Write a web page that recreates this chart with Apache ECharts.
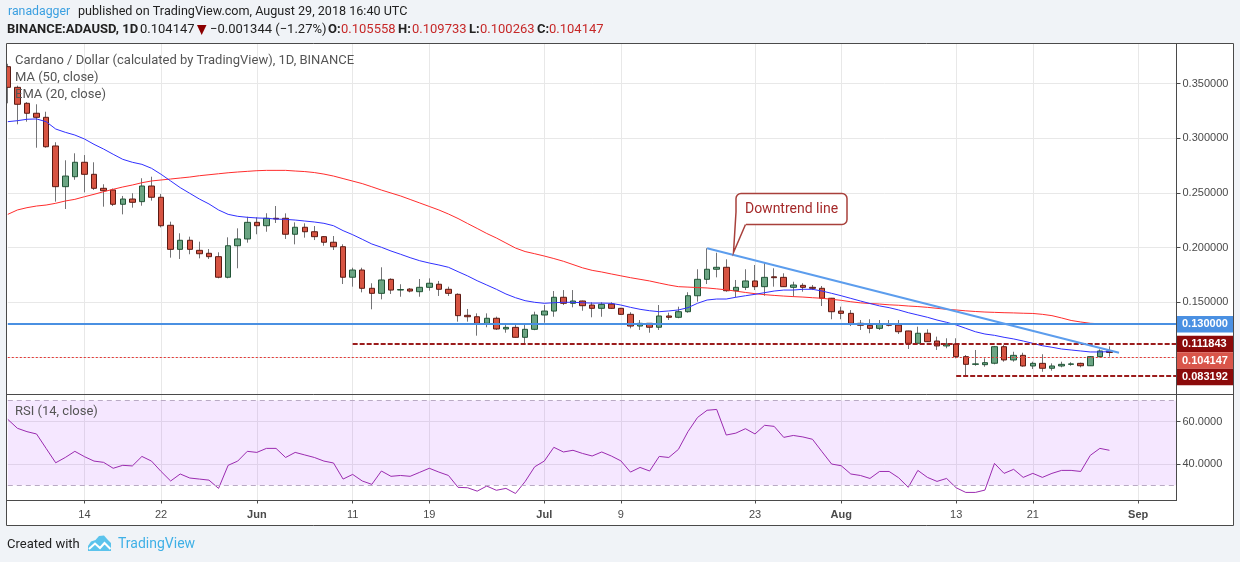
<!DOCTYPE html>
<html>
<head>
<meta charset="utf-8">
<title>Cardano / Dollar, 1D, BINANCE</title>
<script src="https://cdn.jsdelivr.net/npm/echarts@6/dist/echarts.min.js"></script>
<style>
  html, body { margin: 0; padding: 0; background: #f0f3f7; }
  #chart { width: 1240px; height: 562px; }
</style>
</head>
<body>
<div id="chart"></div>
<script>
// daily candles from 6 May to 29 Aug 2018, axis runs on to 5 Sep
const firstDay = Date.UTC(2018, 4, 6);
const dayCount = 123;

const opens = [
  0.3654, 0.3465, 0.3319, 0.3228, 0.3191, 0.2929, 0.2557, 0.2648, 0.2780, 0.2670,
  0.2542, 0.2527, 0.2396, 0.2444, 0.2420, 0.2563, 0.2460, 0.2204, 0.1984, 0.2067,
  0.1975, 0.1948, 0.1917, 0.1729, 0.2017, 0.2079,
  0.2231, 0.2200, 0.2268, 0.2268, 0.2122, 0.2186, 0.2145, 0.2100, 0.2049, 0.2008,
  0.1729, 0.1795, 0.1628, 0.1582, 0.1710, 0.1612, 0.1621, 0.1597, 0.1637, 0.1665,
  0.1619, 0.1573, 0.1381, 0.1368, 0.1308, 0.1354, 0.1256, 0.1271, 0.1180, 0.1253,
  0.1384, 0.1420, 0.1546, 0.1491, 0.1512, 0.1475, 0.1445, 0.1484, 0.1445, 0.1390,
  0.1283, 0.1308, 0.1272, 0.1375, 0.1363, 0.1414, 0.1560, 0.1710, 0.1802, 0.1820,
  0.1606, 0.1637, 0.1695, 0.1643, 0.1733, 0.1728, 0.1637, 0.1655, 0.1637, 0.1628,
  0.1537,
  0.1420, 0.1399, 0.1308, 0.1290, 0.1262, 0.1301, 0.1292, 0.1238, 0.1125, 0.1217,
  0.1146, 0.1101, 0.1119, 0.1003, 0.0933, 0.0930, 0.0943, 0.1094, 0.0973, 0.1015,
  0.0918, 0.0942, 0.0897, 0.0918, 0.0933, 0.0942, 0.0920, 0.1003, 0.105558
];
const highs = [
  0.3680, 0.3480, 0.3330, 0.3310, 0.3242, 0.2963, 0.2798, 0.2862, 0.2846, 0.2780,
  0.2579, 0.2540, 0.2472, 0.2497, 0.2634, 0.2648, 0.2490, 0.2237, 0.2131, 0.2100,
  0.2054, 0.1987, 0.1957, 0.2094, 0.2176, 0.2282,
  0.2277, 0.2314, 0.2380, 0.2313, 0.2231, 0.2222, 0.2197, 0.2105, 0.2106, 0.2030,
  0.1816, 0.1816, 0.1674, 0.1820, 0.1719, 0.1665, 0.1630, 0.1713, 0.1719, 0.1695,
  0.1643, 0.1582, 0.1439, 0.1399, 0.1399, 0.1369, 0.1292, 0.1292, 0.1292, 0.1414,
  0.1475, 0.1603, 0.1612, 0.1612, 0.1515, 0.1500, 0.1500, 0.1500, 0.1449, 0.1409,
  0.1338, 0.1310, 0.1475, 0.1405, 0.1460, 0.1592, 0.1802, 0.1994, 0.1953, 0.1893,
  0.1704, 0.1802, 0.1841, 0.1862, 0.1811, 0.1765, 0.1688, 0.1674, 0.1658, 0.1649,
  0.1540,
  0.1460, 0.1429, 0.1338, 0.1345, 0.1338, 0.1338, 0.1338, 0.1240, 0.1277, 0.1253,
  0.1186, 0.1171, 0.1171, 0.1018, 0.1064, 0.0988, 0.1101, 0.1110, 0.1048, 0.1039,
  0.0957, 0.1025, 0.0942, 0.0957, 0.0952, 0.0948, 0.1009, 0.1070, 0.109733
];
const lows = [
  0.3319, 0.3127, 0.3151, 0.2913, 0.2913, 0.2420, 0.2353, 0.2620, 0.2505, 0.2527,
  0.2374, 0.2380, 0.2304, 0.2365, 0.2383, 0.2429, 0.2185, 0.1908, 0.1896, 0.1939,
  0.1902, 0.1896, 0.1719, 0.1719, 0.1811, 0.2045,
  0.2122, 0.2145, 0.2225, 0.2079, 0.2030, 0.2091, 0.2069, 0.2017, 0.1978, 0.1667,
  0.1643, 0.1591, 0.1436, 0.1527, 0.1576, 0.1551, 0.1591, 0.1551, 0.1606, 0.1558,
  0.1558, 0.1323, 0.1323, 0.1195, 0.1272, 0.1247, 0.1222, 0.1178, 0.1125, 0.1245,
  0.1313, 0.1368, 0.1475, 0.1454, 0.1423, 0.1363, 0.1368, 0.1439, 0.1385, 0.1262,
  0.1247, 0.1222, 0.1247, 0.1338, 0.1354, 0.1405, 0.1506, 0.1667, 0.1728, 0.1597,
  0.1546, 0.1612, 0.1612, 0.1560, 0.1643, 0.1640, 0.1551, 0.1597, 0.1612, 0.1466,
  0.1345,
  0.1345, 0.1283, 0.1247, 0.1217, 0.1247, 0.1280, 0.1210, 0.1073, 0.1120, 0.1138,
  0.1064, 0.1080, 0.0988, 0.083192, 0.0920, 0.0911, 0.0933, 0.0957, 0.0957, 0.0911,
  0.0890, 0.0865, 0.0875, 0.0906, 0.0920, 0.0906, 0.0918, 0.0997, 0.100263
];
const closes = [
  0.3465, 0.3310, 0.3228, 0.3191, 0.2922, 0.2557, 0.2654, 0.2780, 0.2670, 0.2542,
  0.2520, 0.2396, 0.2444, 0.2414, 0.2563, 0.2460, 0.2200, 0.1984, 0.2067, 0.1984,
  0.1944, 0.1917, 0.1729, 0.2017, 0.2079, 0.2231,
  0.2200, 0.2268, 0.2262, 0.2122, 0.2186, 0.2145, 0.2100, 0.2049, 0.2008, 0.1729,
  0.1795, 0.1628, 0.1582, 0.1704, 0.1612, 0.1617, 0.1603, 0.1637, 0.1674, 0.1619,
  0.1582, 0.1378, 0.1368, 0.1308, 0.1354, 0.1256, 0.1271, 0.1180, 0.1253, 0.1384,
  0.1420, 0.1546, 0.1491, 0.1512, 0.1469, 0.1445, 0.1481, 0.1445, 0.1390, 0.1283,
  0.1308, 0.1272, 0.1375, 0.1363, 0.1414, 0.1560, 0.1710, 0.1802, 0.1820, 0.1606,
  0.1637, 0.1695, 0.1643, 0.1728, 0.1725, 0.1643, 0.1658, 0.1637, 0.1628, 0.1537,
  0.1414,
  0.1399, 0.1308, 0.1290, 0.1262, 0.1299, 0.1290, 0.1231, 0.1125, 0.1217, 0.1140,
  0.1101, 0.1119, 0.1003, 0.0933, 0.0937, 0.0948, 0.1094, 0.0973, 0.1015, 0.0918,
  0.0942, 0.0897, 0.0918, 0.0933, 0.0937, 0.0920, 0.1003, 0.1055, 0.104147
];

// MA (50, close) - red
const ma50 = [
  0.2304, 0.2344, 0.2365, 0.2380, 0.2389, 0.2405, 0.2426, 0.2441, 0.2465, 0.2487,
  0.2511, 0.2533, 0.2554, 0.2572, 0.2593, 0.2609, 0.2618, 0.2627, 0.2636, 0.2645,
  0.2657, 0.2666, 0.2675, 0.2684, 0.2691, 0.2697,
  0.2703, 0.2706, 0.2706, 0.2706, 0.2700, 0.2695, 0.2686, 0.2672, 0.2654, 0.2631,
  0.2608, 0.2585, 0.2556, 0.2526, 0.2499, 0.2472, 0.2440, 0.2408, 0.2376, 0.2344,
  0.2307, 0.2266, 0.2220, 0.2175, 0.2129, 0.2088, 0.2042, 0.1996, 0.1964, 0.1944,
  0.1923, 0.1900, 0.1875, 0.1845, 0.1815, 0.1792, 0.1777, 0.1759, 0.1742, 0.1725,
  0.1710, 0.1695, 0.1676, 0.1658, 0.1643, 0.1639, 0.1635, 0.1631, 0.1623, 0.1614,
  0.1602, 0.1590, 0.1579, 0.1570, 0.1563, 0.1557, 0.1552, 0.1548, 0.1542, 0.1537,
  0.1527,
  0.1518, 0.1505, 0.1495, 0.1489, 0.1484, 0.1477, 0.1473, 0.1466, 0.1461, 0.1454,
  0.1445, 0.1436, 0.1430, 0.1422, 0.1416, 0.1411, 0.1408, 0.1405, 0.1403, 0.1400,
  0.1398, 0.1390, 0.1378, 0.1357, 0.1334, 0.1320, 0.1308, 0.1304, 0.1302
];

// EMA (20, close) - blue
const ema20 = [
  0.3151, 0.3160, 0.3173, 0.3176, 0.3151, 0.3084, 0.3054, 0.3029, 0.2993, 0.2944,
  0.2901, 0.2853, 0.2807, 0.2780, 0.2761, 0.2725, 0.2670, 0.2609, 0.2548, 0.2496,
  0.2444, 0.2399, 0.2344, 0.2304, 0.2286, 0.2277,
  0.2271, 0.2268, 0.2261, 0.2258, 0.2252, 0.2243, 0.2234, 0.2222, 0.2200, 0.2155,
  0.2118, 0.2076, 0.2033, 0.2003, 0.1969, 0.1939, 0.1908, 0.1880, 0.1859, 0.1841,
  0.1820, 0.1780, 0.1741, 0.1697, 0.1658, 0.1619, 0.1576, 0.1542, 0.1515, 0.1500,
  0.1491, 0.1496, 0.1500, 0.1500, 0.1496, 0.1493, 0.1493, 0.1491, 0.1475, 0.1454,
  0.1436, 0.1423, 0.1414, 0.1421, 0.1430, 0.1451, 0.1491, 0.1521, 0.1530, 0.1530,
  0.1546, 0.1560, 0.1573, 0.1588, 0.1603, 0.1612, 0.1612, 0.1619, 0.1619, 0.1603,
  0.1582,
  0.1560, 0.1536, 0.1512, 0.1489, 0.1467, 0.1451, 0.1430, 0.1405, 0.1384, 0.1363,
  0.1338, 0.1317, 0.1293, 0.1262, 0.1231, 0.1210, 0.1198, 0.1180, 0.1165, 0.1146,
  0.1125, 0.1103, 0.1089, 0.1073, 0.1064, 0.1055, 0.1046, 0.1046, 0.1049
];

// RSI (14, close)
const rsi14 = [
  61.1, 56.9, 55.3, 54.2, 47.4, 40.6, 43.1, 46.0, 43.5, 41.4,
  40.8, 38.0, 39.4, 39.1, 43.6, 41.4, 36.5, 32.0, 35.3, 33.4,
  32.9, 32.4, 28.5, 39.4, 41.4, 46.0,
  45.5, 47.4, 47.4, 43.1, 45.5, 44.3, 43.1, 41.4, 40.5, 32.9,
  35.1, 32.0, 30.4, 36.7, 34.2, 34.6, 34.2, 36.1, 38.0, 36.2,
  34.6, 29.0, 28.8, 27.2, 29.6, 27.6, 28.5, 26.1, 31.7, 38.7,
  41.4, 47.9, 45.7, 46.5, 45.0, 43.8, 45.7, 43.8, 41.5, 36.2,
  38.4, 36.7, 43.6, 43.1, 46.9, 55.3, 62.0, 65.4, 65.8, 53.7,
  54.6, 56.7, 54.2, 58.3, 57.8, 52.6, 53.5, 52.8, 51.7, 45.8,
  40.0,
  39.2, 35.3, 34.6, 33.2, 36.5, 36.5, 33.5, 29.0, 37.0, 33.7,
  31.8, 33.2, 28.8, 26.6, 26.6, 27.7, 40.3, 35.6, 37.5, 33.7,
  35.6, 33.7, 35.6, 37.0, 37.0, 36.5, 44.1, 47.4, 46.5
];

const tickDates = ['2018-05-14', '2018-05-22', '2018-06-01', '2018-06-11', '2018-06-19', '2018-07-01',
  '2018-07-09', '2018-07-23', '2018-08-01', '2018-08-13', '2018-08-21', '2018-09-01'];
const tickLabels = ['14', '22', 'Jun', '11', '19', 'Jul', '9', '23', 'Aug', '13', '21', 'Sep'];
const priceTicks = [0.10, 0.15, 0.20, 0.25, 0.30, 0.35];
const priceLabels = [0.15, 0.20, 0.25, 0.30, 0.35];
const rsiTicks = [40, 60];

// drawn levels
const resistance = 0.13;
const upperDash = ['2018-06-11', 0.111843];
const lastPrice = 0.104147;
const lowerDash = ['2018-08-13', 0.083192];
const trendFrom = ['2018-07-18', 0.1994];
const trendTo = ['2018-08-30', 0.1039];

const days = [];
for (let i = 0; i < dayCount; i++) {
  days.push(new Date(firstDay + i * 86400000).toISOString().slice(0, 10));
}
const lastDay = days[days.length - 1];

const wickData = opens.map((o, i) => [o, closes[i], lows[i], highs[i]]);
const bodyData = opens.map((o, i) => [o, closes[i], Math.min(o, closes[i]), Math.max(o, closes[i])]);

const isTick = (index, value) => tickDates.indexOf(value) >= 0;
const axisFont = 'Liberation Sans';
const gridColor = '#e8e8e8';
const frameColor = '#4a4a4a';

const option = {
  animation: false,
  backgroundColor: '#ffffff',
  grid: [
    { left: 7.8, top: 43.5, width: 1168.7, height: 351 },
    { left: 7.8, top: 394.5, width: 1168.7, height: 106 }
  ],
  xAxis: [
    {
      type: 'category', gridIndex: 0, data: days, boundaryGap: false,
      axisLine: { show: false }, axisTick: { show: false }, axisLabel: { show: false },
      splitLine: { show: true, interval: isTick, lineStyle: { color: gridColor } }
    },
    {
      type: 'category', gridIndex: 1, data: days, boundaryGap: false,
      axisLine: { show: true, lineStyle: { color: frameColor } },
      axisTick: { show: true, interval: isTick, length: 3, lineStyle: { color: frameColor } },
      axisLabel: {
        interval: isTick, margin: 9, color: '#4a4a4a', fontFamily: axisFont, fontSize: 11,
        formatter: function (value) {
          const t = tickLabels[tickDates.indexOf(value)];
          return /^[A-Z]/.test(t) ? '{m|' + t + '}' : t;
        },
        rich: { m: { fontWeight: 'bold', fontFamily: axisFont, fontSize: 11, color: '#4a4a4a' } }
      },
      splitLine: { show: true, interval: isTick, lineStyle: { color: gridColor } }
    }
  ],
  yAxis: [
    {
      type: 'value', gridIndex: 0, position: 'right', min: 0.06572, max: 0.38657,
      axisLine: { show: true, lineStyle: { color: frameColor } },
      axisTick: { show: true, length: 4, customValues: priceTicks, lineStyle: { color: frameColor } },
      axisLabel: {
        customValues: priceLabels, margin: 6, color: '#4a4a4a', fontFamily: axisFont, fontSize: 11,
        formatter: v => v.toFixed(6)
      },
      splitLine: { show: true, lineStyle: { color: gridColor } }
    },
    {
      type: 'value', gridIndex: 1, position: 'right', min: 22.78, max: 72.85,
      axisLine: { show: true, lineStyle: { color: frameColor } },
      axisTick: { show: true, length: 4, customValues: rsiTicks, lineStyle: { color: frameColor } },
      axisLabel: {
        customValues: rsiTicks, margin: 6, color: '#4a4a4a', fontFamily: axisFont, fontSize: 11,
        formatter: v => v.toFixed(4)
      },
      splitLine: { show: true, lineStyle: { color: gridColor } }
    }
  ],
  series: [
    {
      name: 'wicks', type: 'candlestick', xAxisIndex: 0, yAxisIndex: 0,
      data: wickData, barWidth: 1,
      itemStyle: { color: '#737375', color0: '#737375', borderColor: '#737375', borderColor0: '#737375', borderWidth: 1 }
    },
    {
      name: 'bodies', type: 'candlestick', xAxisIndex: 0, yAxisIndex: 0,
      data: bodyData, barWidth: 6,
      itemStyle: { color: '#6ba583', color0: '#d75442', borderColor: '#225437', borderColor0: '#5b1a13', borderWidth: 1 }
    },
    {
      name: 'MA (50, close)', type: 'line', xAxisIndex: 0, yAxisIndex: 0,
      data: ma50, symbol: 'none', lineStyle: { color: '#ff2d2d', width: 1 }
    },
    {
      name: 'EMA (20, close)', type: 'line', xAxisIndex: 0, yAxisIndex: 0,
      data: ema20, symbol: 'none', lineStyle: { color: '#3030ff', width: 1 }
    },
    {
      name: 'levels', type: 'line', xAxisIndex: 0, yAxisIndex: 0, data: [], z: 5,
      markLine: {
        silent: true, symbol: ['none', 'none'], label: { show: false }, animation: false,
        data: [
          { yAxis: lastPrice, lineStyle: { color: '#e53935', width: 1, type: [2, 2] } },
          { yAxis: resistance, lineStyle: { color: '#4a90e2', width: 2, type: 'solid' } },
          [{ coord: upperDash, lineStyle: { color: '#9b1c1c', width: 2, type: [5, 2] } }, { coord: [lastDay, upperDash[1]] }],
          [{ coord: lowerDash, lineStyle: { color: '#9b1c1c', width: 2, type: [5, 2] } }, { coord: [lastDay, lowerDash[1]] }],
          [{ coord: trendFrom, lineStyle: { color: '#5c9ded', width: 2, type: 'solid' } }, { coord: trendTo }]
        ]
      }
    },
    {
      name: 'RSI (14, close)', type: 'line', xAxisIndex: 1, yAxisIndex: 1,
      data: rsi14, symbol: 'none', lineStyle: { color: '#9b2bb0', width: 1 },
      markArea: {
        silent: true,
        itemStyle: { color: 'rgba(153, 21, 255, 0.1)' },
        data: [[{ yAxis: 30 }, { yAxis: 70 }]]
      },
      markLine: {
        silent: true, symbol: ['none', 'none'], label: { show: false },
        lineStyle: { color: '#b9aac4', width: 1, type: [5, 4] },
        data: [{ yAxis: 70 }, { yAxis: 30 }]
      }
    }
  ]
};

const chart = echarts.init(document.getElementById('chart'));
chart.setOption(option);

// ---- overlay: page frame, header, legends, price tags, callout ----
const pageBg = '#f0f3f7';
const uiFont = 'Roboto';
function txt(x, y, text, size, fill, weight, align) {
  return {
    type: 'text', x: x, y: y, z: 110,
    style: {
      text: text, fill: fill, align: align || 'left', verticalAlign: 'middle',
      font: (weight || 'normal') + ' ' + size + 'px ' + uiFont
    }
  };
}
function line(x1, y1, x2, y2) {
  return { type: 'line', z: 105, shape: { x1: x1, y1: y1, x2: x2, y2: y2 }, style: { stroke: frameColor, lineWidth: 1 } };
}

const g = [
  // outside the frame
  { type: 'rect', z: 100, shape: { x: 0, y: 0, width: 1240, height: 43 }, style: { fill: pageBg } },
  { type: 'rect', z: 100, shape: { x: 0, y: 526, width: 1240, height: 36 }, style: { fill: pageBg } },
  { type: 'rect', z: 100, shape: { x: 0, y: 0, width: 6, height: 562 }, style: { fill: pageBg } },
  { type: 'rect', z: 100, shape: { x: 1234, y: 0, width: 6, height: 562 }, style: { fill: pageBg } },
  // frame
  { type: 'rect', z: 105, shape: { x: 6.5, y: 43.5, width: 1227, height: 482 }, style: { fill: null, stroke: frameColor, lineWidth: 1 } },
  line(6.5, 394.5, 1233.5, 394.5),
  line(6.5, 500.5, 1176.5, 500.5),
  line(1176.5, 43.5, 1176.5, 500.5),

  // header
  txt(8, 12, 'ranadagger', 12.3, '#3a9fe0'),
  txt(78, 12, 'published on TradingView.com, August 29, 2018 16:40 UTC', 12.6, '#222222'),
  txt(7, 30, 'BINANCE:ADAUSD, 1D', 13, '#222222', 'bold'),
  txt(140, 30, '0.104147', 13, '#222222'),
  { type: 'polygon', z: 110, shape: { points: [[197, 25], [206.5, 25], [201.7, 35]] }, style: { fill: '#8b0000' } },
  txt(210, 30, '\u22120.001344 (\u22121.27%)', 13, '#222222'),
  txt(328, 30, 'O:', 13, '#222222', 'bold'),
  txt(341, 30, '0.105558', 13, '#c62828'),
  txt(398, 30, 'H:', 13, '#222222', 'bold'),
  txt(412, 30, '0.109733', 13, '#c62828'),
  txt(469, 30, 'L:', 13, '#222222', 'bold'),
  txt(480, 30, '0.100263', 13, '#c62828'),
  txt(537, 30, 'C:', 13, '#222222', 'bold'),
  txt(549, 30, '0.104147', 13, '#c62828'),

  // legends
  txt(15, 61, 'Cardano / Dollar (calculated by TradingView), 1D, BINANCE', 13, '#555555'),
  txt(15, 78, 'MA (50, close)', 13, '#555555'),
  txt(15, 95, 'EMA (20, close)', 13, '#555555'),
  txt(15, 412, 'RSI (14, close)', 13, '#555555'),

  // footer
  txt(7, 544.5, 'Created with', 13, '#222222'),
  { type: 'polygon', z: 110, shape: { points: [[88, 551], [88, 546], [91, 541.5], [95.5, 540], [99, 536], [104, 535.5], [107.5, 539.5], [111, 543], [111, 551]] }, style: { fill: '#5bc3ec' } },
  { type: 'polyline', z: 111, shape: { points: [[89, 549], [95, 543.5], [100, 548], [104.5, 543], [110.5, 549]] }, style: { stroke: '#ffffff', lineWidth: 2, fill: null } },
  txt(118, 544.5, 'TradingView', 14, '#3fb0e6'),

  // callout
  { type: 'rect', z: 108, shape: { x: 736, y: 193.5, width: 111, height: 31, r: 5 }, style: { fill: '#ffffff', stroke: '#a8403b', lineWidth: 1.5 } },
  { type: 'polygon', z: 109, shape: { points: [[735, 212], [733.5, 252.5], [746, 226], [746, 222], [738, 222], [738, 212]] }, style: { fill: '#ffffff' } },
  { type: 'polyline', z: 109, shape: { points: [[736, 212], [733.5, 252.5], [745.5, 224.5]] }, style: { fill: null, stroke: '#a8403b', lineWidth: 1.5 } },
  txt(791.5, 209, 'Downtrend line', 14, '#a52a2a', 'normal', 'center')
];

// price tags on the right axis, pushed down where they would overlap
const tagValues = [resistance, upperDash[1], lastPrice, lowerDash[1]];
const tagColors = ['#4a90e2', '#8b0a0a', '#d9554a', '#8b0a0a'];
const tagH = 16.5;
let prevBottom = -Infinity;
tagValues.forEach((v, i) => {
  let cy = chart.convertToPixel({ yAxisIndex: 0 }, v);
  if (cy - tagH / 2 < prevBottom) cy = prevBottom + tagH / 2;
  prevBottom = cy + tagH / 2;
  g.push({ type: 'rect', z: 106, shape: { x: 1177, y: cy - tagH / 2, width: 56, height: tagH }, style: { fill: tagColors[i] } });
  g.push({
    type: 'text', x: 1182, y: cy, z: 107,
    style: { text: v.toFixed(6), fill: '#ffffff', align: 'left', verticalAlign: 'middle', font: 'bold 11px ' + axisFont }
  });
});

chart.setOption({ graphic: { elements: g } });
</script>
</body>
</html>
